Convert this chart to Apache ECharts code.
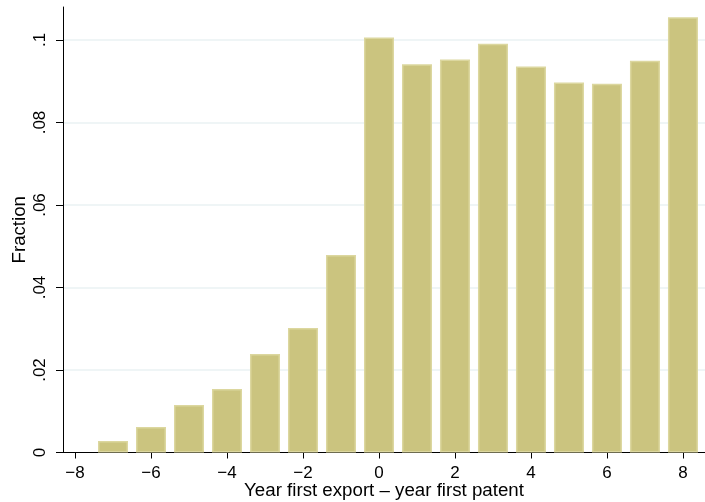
<!DOCTYPE html>
<html>
<head>
<meta charset="utf-8">
<script src="https://cdn.jsdelivr.net/npm/echarts@6/dist/echarts.min.js"></script>
<style>
  html, body { margin: 0; padding: 0; background: #fff; }
  #chart { width: 705px; height: 502px; }
</style>
</head>
<body>
<div id="chart"></div>
<script>
// year first export - year first patent
var years = [-7, -6, -5, -4, -3, -2, -1, 0, 1, 2, 3, 4, 5, 6, 7, 8];
var fractions = [0.0028, 0.0062, 0.0115, 0.0154, 0.0239, 0.0302, 0.0479, 0.1006,
                 0.0941, 0.0953, 0.0991, 0.0936, 0.0897, 0.0894, 0.0950, 0.1055];
var xTicks = [-8, -6, -4, -2, 0, 2, 4, 6, 8];
var yTicks = [0, 0.02, 0.04, 0.06, 0.08, 0.1];

var myChart = echarts.init(document.getElementById('chart'));
var font = 'Liberation Sans, Arial, Helvetica, sans-serif';

var option = {
  animation: false,
  backgroundColor: '#fff',
  grid: { left: 63, right: 0, top: 7, bottom: 49.5, containLabel: false, outerBoundsMode: 'none' },
  xAxis: {
    type: 'value',
    min: -8.316,
    max: 8.58,
    name: 'Year first export \u2013 year first patent',
    nameLocation: 'middle',
    nameGap: 29,
    nameMoveOverlap: false,
    nameTextStyle: { color: '#000', fontSize: 18.7, fontFamily: font },
    axisLine: { show: true, onZero: false, lineStyle: { color: '#000', width: 1 } },
    axisTick: { show: true, length: 6, customValues: xTicks, lineStyle: { color: '#000' } },
    axisLabel: {
      customValues: xTicks,
      color: '#000', fontSize: 17, fontFamily: font, margin: 12,
      formatter: function (v) { return v < 0 ? '\u2212' + Math.abs(v) : String(v); }
    },
    splitLine: { show: false }
  },
  yAxis: {
    type: 'value',
    min: 0,
    max: 0.108,
    name: 'Fraction',
    nameLocation: 'middle',
    nameGap: 34,
    nameMoveOverlap: false,
    nameRotate: 90,
    nameTextStyle: { color: '#000', fontSize: 18.7, fontFamily: font },
    axisLine: { show: true, onZero: false, lineStyle: { color: '#000', width: 1 } },
    axisTick: { show: true, length: 7, customValues: yTicks, lineStyle: { color: '#000' } },
    axisLabel: {
      customValues: yTicks,
      rotate: 90,
      color: '#000', fontSize: 17, fontFamily: font, margin: 14,
      formatter: function (v) { return v === 0 ? '0' : String(+v.toFixed(2)).replace(/^0/, ''); }
    },
    splitLine: { show: false }
  },
  series: [
    {
      type: 'bar',
      barWidth: 30,
      data: years.map(function (x, i) { return [x, fractions[i]]; }),
      itemStyle: { color: '#CBC47F', borderColor: '#DCD79F', borderWidth: 1.5 },
      markLine: {
        silent: true,
        symbol: 'none',
        label: { show: false },
        lineStyle: { color: '#EAF2F3', type: 'solid', width: 1.5 },
        z: 0,
        data: yTicks.slice(1).map(function (v) { return { yAxis: v }; })
      },
      z: 2
    }
  ]
};
myChart.setOption(option);
</script>
</body>
</html>
